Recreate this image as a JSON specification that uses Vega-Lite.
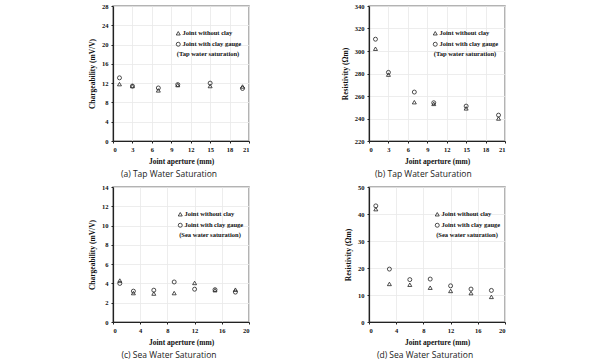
{
  "$schema": "https://vega.github.io/schema/vega-lite/v6.json",
  "padding": {"left": 87, "top": 2, "right": 5, "bottom": 5},
  "background": "white",
  "config": {
    "font": "Liberation Serif",
    "view": {"stroke": "#9a9a9a", "strokeWidth": 1.5},
    "axis": {
      "labelFont": "Liberation Serif", "labelFontWeight": "bold", "labelFontSize": 6.5, "labelColor": "#111",
      "titleFont": "Liberation Serif", "titleFontWeight": "bold", "titleFontSize": 7.5, "titleColor": "#111",
      "gridColor": "#e8e8e8", "gridWidth": 0.8,
      "domainColor": "#222", "domainWidth": 1.2, "tickColor": "#222", "tickSize": 2,
      "labelPadding": 3, "titlePadding": 5
    },
    "legend": {
      "labelFont": "Liberation Serif", "labelFontWeight": "bold", "labelFontSize": 6.5, "labelColor": "#111",
      "titleFont": "Liberation Serif", "titleFontWeight": "bold", "titleFontSize": 6.5, "titleColor": "#111",
      "symbolSize": 16, "symbolStrokeColor": "#222", "symbolStrokeWidth": 0.8, "symbolFillColor": "transparent",
      "rowPadding": 3, "labelOffset": 1, "titlePadding": 3, "titleAnchor": "middle", "titleLimit": 200
    },
    "title": {"font": "Open Sans", "fontSize": 8.5, "fontWeight": "normal", "color": "#222", "orient": "bottom", "anchor": "middle", "frame": "bounds", "offset": 5}
  },
  "datasets": {
    "a": [
      {"aperture": 1, "value": 11.8, "type": "Joint without clay"},
      {"aperture": 3, "value": 11.4, "type": "Joint without clay"},
      {"aperture": 7, "value": 10.5, "type": "Joint without clay"},
      {"aperture": 10, "value": 11.6, "type": "Joint without clay"},
      {"aperture": 15, "value": 11.4, "type": "Joint without clay"},
      {"aperture": 20, "value": 11.3, "type": "Joint without clay"},
      {"aperture": 1, "value": 13.1, "type": "Joint with clay gauge"},
      {"aperture": 3, "value": 11.4, "type": "Joint with clay gauge"},
      {"aperture": 7, "value": 11.0, "type": "Joint with clay gauge"},
      {"aperture": 10, "value": 11.7, "type": "Joint with clay gauge"},
      {"aperture": 15, "value": 12.0, "type": "Joint with clay gauge"},
      {"aperture": 20, "value": 10.9, "type": "Joint with clay gauge"}
    ],
    "b": [
      {"aperture": 1, "value": 302, "type": "Joint without clay"},
      {"aperture": 3, "value": 279, "type": "Joint without clay"},
      {"aperture": 7, "value": 254.5, "type": "Joint without clay"},
      {"aperture": 10, "value": 253, "type": "Joint without clay"},
      {"aperture": 15, "value": 249, "type": "Joint without clay"},
      {"aperture": 20, "value": 240, "type": "Joint without clay"},
      {"aperture": 1, "value": 310.5, "type": "Joint with clay gauge"},
      {"aperture": 3, "value": 281, "type": "Joint with clay gauge"},
      {"aperture": 7, "value": 263.5, "type": "Joint with clay gauge"},
      {"aperture": 10, "value": 254, "type": "Joint with clay gauge"},
      {"aperture": 15, "value": 251, "type": "Joint with clay gauge"},
      {"aperture": 20, "value": 243, "type": "Joint with clay gauge"}
    ],
    "c": [
      {"aperture": 1, "value": 4.3, "type": "Joint without clay"},
      {"aperture": 3, "value": 3.0, "type": "Joint without clay"},
      {"aperture": 6, "value": 2.95, "type": "Joint without clay"},
      {"aperture": 9, "value": 3.0, "type": "Joint without clay"},
      {"aperture": 12, "value": 4.05, "type": "Joint without clay"},
      {"aperture": 15, "value": 3.3, "type": "Joint without clay"},
      {"aperture": 18, "value": 3.35, "type": "Joint without clay"},
      {"aperture": 1, "value": 4.0, "type": "Joint with clay gauge"},
      {"aperture": 3, "value": 3.2, "type": "Joint with clay gauge"},
      {"aperture": 6, "value": 3.3, "type": "Joint with clay gauge"},
      {"aperture": 9, "value": 4.15, "type": "Joint with clay gauge"},
      {"aperture": 12, "value": 3.4, "type": "Joint with clay gauge"},
      {"aperture": 15, "value": 3.35, "type": "Joint with clay gauge"},
      {"aperture": 18, "value": 3.1, "type": "Joint with clay gauge"}
    ],
    "d": [
      {"aperture": 1, "value": 41.8, "type": "Joint without clay"},
      {"aperture": 3, "value": 14.1, "type": "Joint without clay"},
      {"aperture": 6, "value": 13.8, "type": "Joint without clay"},
      {"aperture": 9, "value": 12.7, "type": "Joint without clay"},
      {"aperture": 12, "value": 11.5, "type": "Joint without clay"},
      {"aperture": 15, "value": 10.7, "type": "Joint without clay"},
      {"aperture": 18, "value": 9.3, "type": "Joint without clay"},
      {"aperture": 1, "value": 43.0, "type": "Joint with clay gauge"},
      {"aperture": 3, "value": 19.6, "type": "Joint with clay gauge"},
      {"aperture": 6, "value": 15.7, "type": "Joint with clay gauge"},
      {"aperture": 9, "value": 15.9, "type": "Joint with clay gauge"},
      {"aperture": 12, "value": 13.4, "type": "Joint with clay gauge"},
      {"aperture": 15, "value": 12.2, "type": "Joint with clay gauge"},
      {"aperture": 18, "value": 11.7, "type": "Joint with clay gauge"}
    ]
  },
  "columns": 2,
  "bounds": "flush",
  "spacing": {"row": 46, "column": 120},
  "resolve": {"scale": {"shape": "independent", "x": "independent", "y": "independent"}, "legend": {"shape": "independent"}},
  "concat": [
    {
      "data": {"name": "a"},
      "width": 136, "height": 135,
      "title": {"text": "(a) Tap Water Saturation"},
      "mark": {"type": "point", "filled": false, "strokeWidth": 0.8, "size": 16, "color": "#222", "opacity": 1},
      "encoding": {
        "x": {"field": "aperture", "type": "quantitative", "scale": {"domain": [0, 21], "nice": false}, "axis": {"title": "Joint aperture (mm)", "values": [0, 3, 6, 9, 12, 15, 18, 21]}},
        "y": {"field": "value", "type": "quantitative", "scale": {"domain": [0, 28], "nice": false}, "axis": {"title": "Chargeability (mV/V)", "values": [0, 4, 8, 12, 16, 20, 24, 28]}},
        "shape": {"field": "type", "type": "nominal", "scale": {"domain": ["Joint without clay", "Joint with clay gauge"], "range": ["triangle-up", "circle"]},
          "legend": {"title": "(Tap water saturation)", "titleOrient": "bottom", "orient": "none", "legendX": 62, "legendY": 24}}
      }
    },
    {
      "data": {"name": "b"},
      "width": 136, "height": 135,
      "title": {"text": "(b) Tap Water Saturation"},
      "mark": {"type": "point", "filled": false, "strokeWidth": 0.8, "size": 16, "color": "#222", "opacity": 1},
      "encoding": {
        "x": {"field": "aperture", "type": "quantitative", "scale": {"domain": [0, 21], "nice": false}, "axis": {"title": "Joint aperture (mm)", "values": [0, 3, 6, 9, 12, 15, 18, 21]}},
        "y": {"field": "value", "type": "quantitative", "scale": {"domain": [220, 340], "nice": false, "zero": false}, "axis": {"title": "Resistivity (Ωm)", "values": [220, 240, 260, 280, 300, 320, 340]}},
        "shape": {"field": "type", "type": "nominal", "scale": {"domain": ["Joint without clay", "Joint with clay gauge"], "range": ["triangle-up", "circle"]},
          "legend": {"title": "(Tap water saturation)", "titleOrient": "bottom", "orient": "none", "legendX": 63, "legendY": 24}}
      }
    },
    {
      "data": {"name": "c"},
      "width": 136, "height": 135,
      "title": {"text": "(c) Sea Water Saturation"},
      "mark": {"type": "point", "filled": false, "strokeWidth": 0.8, "size": 16, "color": "#222", "opacity": 1},
      "encoding": {
        "x": {"field": "aperture", "type": "quantitative", "scale": {"domain": [0, 20], "nice": false}, "axis": {"title": "Joint aperture (mm)", "values": [0, 4, 8, 12, 16, 20]}},
        "y": {"field": "value", "type": "quantitative", "scale": {"domain": [0, 14], "nice": false}, "axis": {"title": "Chargeability (mV/V)", "values": [0, 2, 4, 6, 8, 10, 12, 14]}},
        "shape": {"field": "type", "type": "nominal", "scale": {"domain": ["Joint without clay", "Joint with clay gauge"], "range": ["triangle-up", "circle"]},
          "legend": {"title": "(Sea water saturation)", "titleOrient": "bottom", "orient": "none", "legendX": 64, "legendY": 24}}
      }
    },
    {
      "data": {"name": "d"},
      "width": 136, "height": 135,
      "title": {"text": "(d) Sea Water Saturation"},
      "mark": {"type": "point", "filled": false, "strokeWidth": 0.8, "size": 16, "color": "#222", "opacity": 1},
      "encoding": {
        "x": {"field": "aperture", "type": "quantitative", "scale": {"domain": [0, 20], "nice": false}, "axis": {"title": "Joint aperture (mm)", "values": [0, 4, 8, 12, 16, 20]}},
        "y": {"field": "value", "type": "quantitative", "scale": {"domain": [0, 50], "nice": false}, "axis": {"title": "Resistivity (Ωm)", "values": [0, 10, 20, 30, 40, 50]}},
        "shape": {"field": "type", "type": "nominal", "scale": {"domain": ["Joint without clay", "Joint with clay gauge"], "range": ["triangle-up", "circle"]},
          "legend": {"title": "(Sea water saturation)", "titleOrient": "bottom", "orient": "none", "legendX": 65, "legendY": 24}}
      }
    }
  ]
}
